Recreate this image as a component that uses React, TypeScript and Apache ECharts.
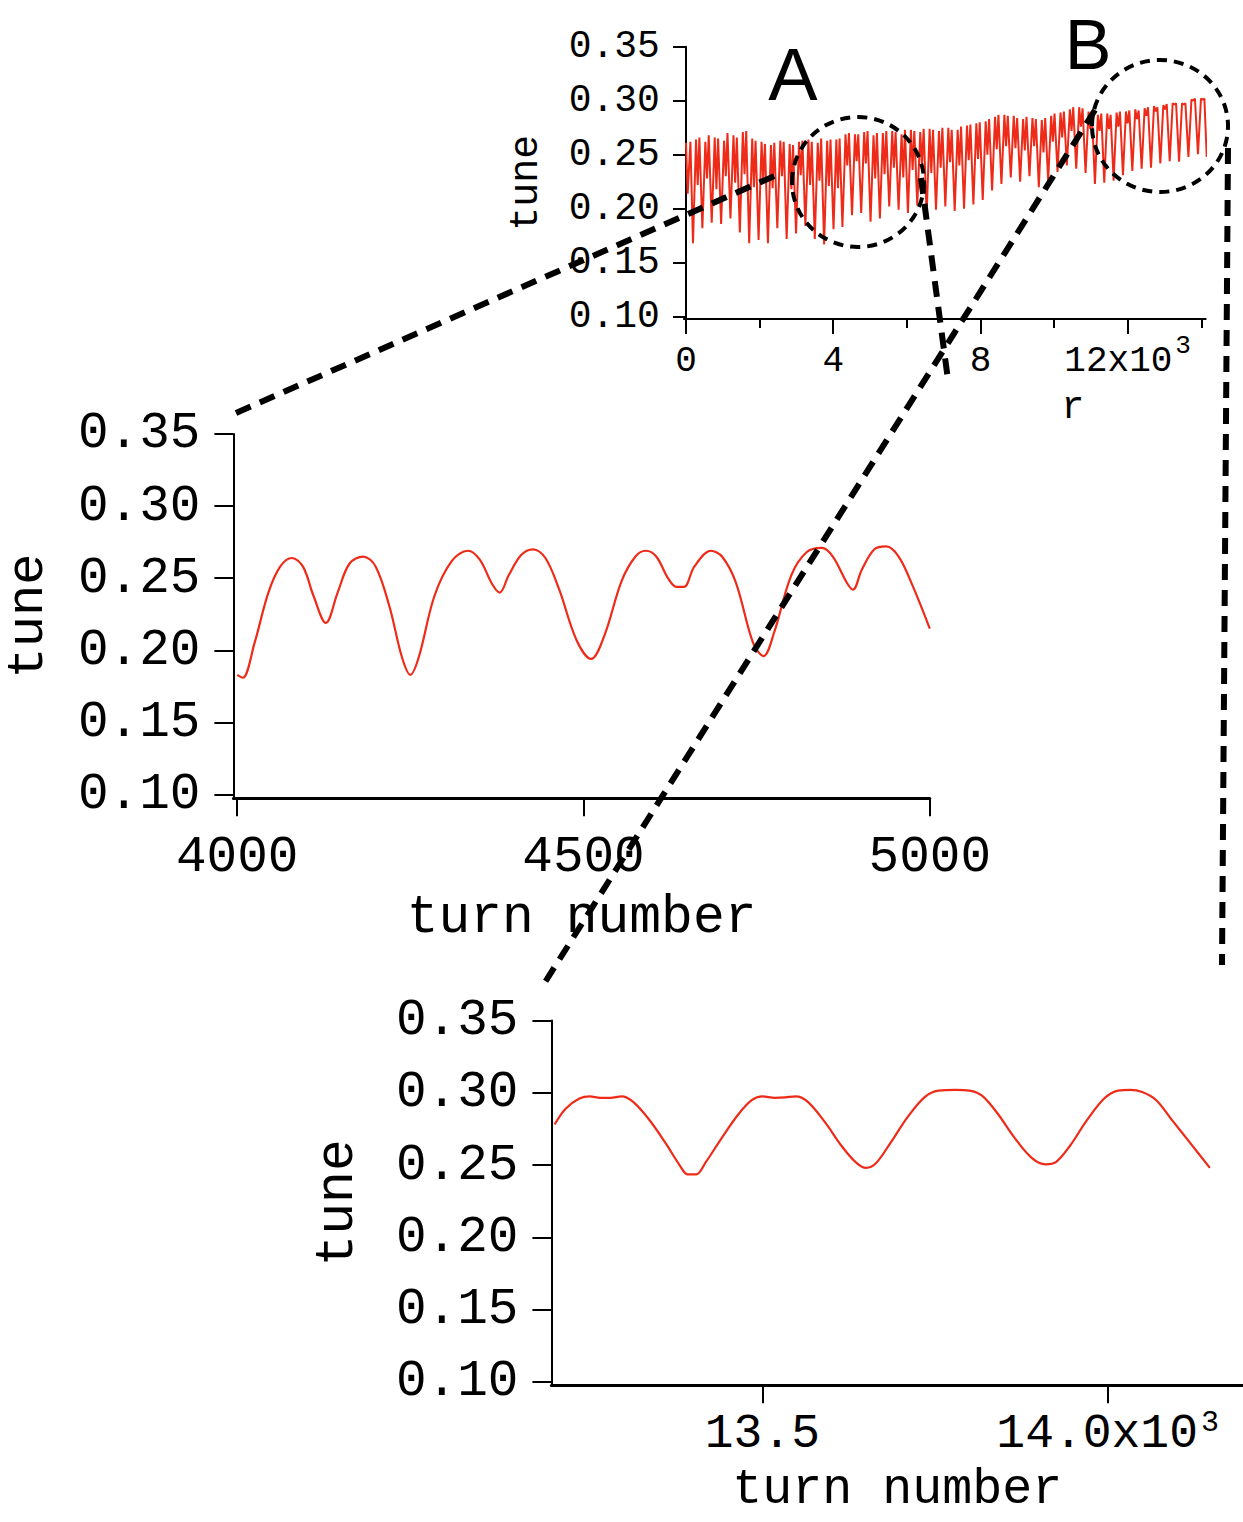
import { useEffect, useRef } from 'react';
import * as echarts from 'echarts';

const MONO = '"Liberation Mono", "Courier New", monospace';
const SANS = '"Liberation Sans", Arial, Helvetica, sans-serif';
const RED = '#ee2b19';
const INK = '#000000';

// ---- full run (top panel): extrema of each oscillation cycle ----
const overviewLeadTurn = [0, 46, 120];
const overviewLeadTune = [0.261, 0.214, 0.262];

const cycleTurn = [
  190, 445, 699, 954, 1208, 1463, 1717, 1972, 2226, 2481, 2735, 2990, 3244, 3499, 3753,
  4008, 4250, 4511, 4760, 5014, 5268, 5522, 5776, 6030, 6284, 6538, 6792, 7046, 7300,
  7554, 7808, 8062, 8316, 8570, 8824, 9078, 9332, 9586, 9840, 10094, 10348, 10602,
  10856, 11110, 11364, 11618, 11872, 12126, 12380, 12634, 12888, 13142, 13396, 13650, 13910,
];
const cycleLow = [
  0.168, 0.182, 0.187, 0.186, 0.191, 0.178, 0.168, 0.171, 0.168, 0.182, 0.172, 0.177, 0.184, 0.172, 0.167,
  0.181, 0.183, 0.194, 0.196, 0.188, 0.191, 0.202, 0.199, 0.196, 0.203, 0.194, 0.199, 0.202, 0.198,
  0.2, 0.204, 0.208, 0.217, 0.223, 0.229, 0.225, 0.23, 0.22, 0.226, 0.234, 0.24, 0.237,
  0.233, 0.223, 0.224, 0.226, 0.231, 0.235, 0.237, 0.238, 0.242, 0.244, 0.2435, 0.248, 0.2505,
];
const cyclePeakA = [
  0.264, 0.262, 0.266, 0.263, 0.268, 0.271, 0.265, 0.262, 0.259, 0.263, 0.26, 0.262, 0.264, 0.261, 0.263,
  0.264, 0.269, 0.269, 0.271, 0.268, 0.27, 0.272, 0.269, 0.273, 0.271, 0.274, 0.272, 0.275, 0.273,
  0.277, 0.279, 0.281, 0.285, 0.287, 0.286, 0.283, 0.284, 0.282, 0.286, 0.289, 0.292, 0.294,
  0.29, 0.287, 0.288, 0.289, 0.29, 0.292, 0.293, 0.295, 0.296, 0.2975, 0.2975, 0.301, 0.302,
];
const cycleDip = [
  0.222, 0.228, 0.218, 0.23, 0.224, 0.232, 0.22, 0.226, 0.219, 0.23, 0.218, 0.231, 0.222, 0.226, 0.221,
  0.219, 0.24, 0.244, 0.242, 0.228, 0.232, 0.238, 0.229, 0.236, 0.24, 0.233, 0.238, 0.243, 0.24,
  0.245, 0.246, 0.25, 0.255, 0.258, 0.256, 0.254, 0.258, 0.252, 0.262, 0.266, 0.272, 0.276,
  0.274, 0.272, 0.274, 0.276, 0.279, 0.283, 0.286, 0.29, 0.292, 0.2965, 0.2965, 0.3, 0.301,
];
const cyclePeakB = [
  0.266, 0.268, 0.265, 0.27, 0.266, 0.272, 0.263, 0.26, 0.261, 0.262, 0.259, 0.263, 0.262, 0.265, 0.264,
  0.265, 0.27, 0.269, 0.272, 0.27, 0.272, 0.271, 0.273, 0.272, 0.274, 0.273, 0.275, 0.273, 0.276,
  0.278, 0.28, 0.283, 0.287, 0.286, 0.284, 0.285, 0.283, 0.284, 0.288, 0.29, 0.294, 0.293,
  0.289, 0.288, 0.287, 0.29, 0.291, 0.291, 0.294, 0.294, 0.297, 0.2975, 0.2975, 0.302, 0.302,
];
const overviewTailTurn = 14148;
const overviewTailTune = 0.248;

// ---- window A: turns 4000-5000 ----
const windowATurn = [
  4000, 4008, 4025, 4045, 4062, 4079, 4095, 4110, 4128, 4145, 4162, 4182, 4200, 4220, 4238, 4250,
  4262, 4285, 4310, 4333, 4350, 4368, 4379, 4392, 4410, 4427, 4445, 4465, 4490, 4511, 4530, 4555,
  4575, 4590, 4605, 4622, 4634, 4645, 4660, 4684, 4700, 4720, 4745, 4760, 4775, 4800, 4822, 4844,
  4860, 4880, 4889, 4902, 4920, 4937, 4955, 4975, 5000,
];
const windowATune = [
  0.183, 0.181, 0.205, 0.24, 0.258, 0.264, 0.258, 0.238, 0.219, 0.24, 0.26, 0.265, 0.258, 0.23, 0.195, 0.183,
  0.195, 0.238, 0.262, 0.269, 0.263, 0.246, 0.24, 0.252, 0.266, 0.27, 0.264, 0.242, 0.207, 0.194, 0.21, 0.248,
  0.265, 0.269, 0.265, 0.25, 0.244, 0.244, 0.258, 0.269, 0.265, 0.247, 0.205, 0.196, 0.212, 0.252, 0.268, 0.271,
  0.265, 0.247, 0.242, 0.256, 0.27, 0.272, 0.265, 0.245, 0.215,
];

// ---- window B: turns 13.2k-14.15k ----
const windowBTurn = [
  13199, 13215, 13235, 13250, 13265, 13280, 13296, 13312, 13335, 13360, 13380, 13392, 13404, 13418,
  13440, 13465, 13485, 13500, 13518, 13533, 13548, 13565, 13590, 13615, 13635, 13650, 13664, 13685,
  13710, 13735, 13755, 13780, 13800, 13818, 13840, 13865, 13890, 13910, 13925, 13945, 13970, 13995,
  14015, 14033, 14050, 14070, 14095, 14120, 14148,
];
const windowBTune = [
  0.278, 0.289, 0.296, 0.2975, 0.2965, 0.2965, 0.2975, 0.294, 0.282, 0.265, 0.25, 0.2435, 0.2435, 0.252,
  0.268, 0.285, 0.295, 0.2975, 0.2965, 0.2968, 0.2975, 0.294, 0.28, 0.263, 0.252, 0.248, 0.251, 0.265,
  0.283, 0.297, 0.3015, 0.302, 0.3015, 0.298, 0.286, 0.269, 0.255, 0.2505, 0.252, 0.263, 0.281, 0.296,
  0.3015, 0.302, 0.3005, 0.295, 0.28, 0.265, 0.248,
];

const tuneTicks = [0.1, 0.15, 0.2, 0.25, 0.3, 0.35];
const overviewMajor = [0, 4000, 8000, 12000];
const overviewMinor = [2000, 6000, 10000, 14000];
const windowATicks = [4000, 4500, 5000];
const windowBTicks = [13500, 14000];

function overviewPoints(): [number, number][] {
  const pts: [number, number][] = overviewLeadTurn.map((t, i) => [t, overviewLeadTune[i]]);
  for (let i = 0; i < cycleTurn.length; i++) {
    const t = cycleTurn[i];
    const span = (i + 1 < cycleTurn.length ? cycleTurn[i + 1] : t + 256) - t;
    pts.push([t, cycleLow[i]]);
    pts.push([t + Math.round(span * 0.32), cyclePeakA[i]]);
    pts.push([t + Math.round(span * 0.5), cycleDip[i]]);
    pts.push([t + Math.round(span * 0.68), cyclePeakB[i]]);
  }
  pts.push([overviewTailTurn, overviewTailTune]);
  return pts;
}

const pair = (xs: number[], ys: number[]): [number, number][] => xs.map((x, i) => [x, ys[i]]);

function tuneAxis(
  gridIndex: number,
  min: number,
  fontSize: number,
  tickLen: number,
  margin: number,
  nameSize: number,
  nameGap: number,
  nameLine?: number,
) {
  return {
    type: 'value',
    gridIndex,
    min,
    max: 0.35,
    axisLine: { show: true, lineStyle: { color: INK, width: 2 } },
    axisTick: { show: true, customValues: tuneTicks, length: tickLen, lineStyle: { color: INK, width: 2 } },
    axisLabel: {
      show: true,
      customValues: tuneTicks,
      formatter: (v: number) => v.toFixed(2),
      fontFamily: MONO,
      fontSize,
      color: INK,
      margin,
    },
    splitLine: { show: false },
    name: 'tune',
    nameLocation: 'middle',
    nameRotate: 90,
    nameGap,
    nameMoveOverlap: false,
    nameTextStyle: { fontFamily: MONO, fontSize: nameSize, color: INK, lineHeight: nameLine },
  };
}

// base text sits in a tall line, the exponent is pinned to the line top
function supRich(base: number, line: number, sup: number, supLine: number) {
  return {
    n: { fontFamily: MONO, fontSize: base, lineHeight: line, color: INK },
    s: { fontFamily: MONO, fontSize: sup, lineHeight: supLine, color: INK, padding: [0, 0, 0, 3], verticalAlign: 'top' },
  };
}

function dashLine(x1: number, y1: number, x2: number, y2: number) {
  return {
    type: 'line',
    z: 100,
    shape: { x1, y1, x2, y2 },
    style: { stroke: INK, lineWidth: 6, lineDash: [16, 10], fill: 'none' },
  };
}

function dashRing(cx: number, cy: number, rx: number, ry: number) {
  return {
    type: 'ellipse',
    z: 100,
    shape: { cx, cy, rx, ry },
    style: { stroke: INK, lineWidth: 4, lineDash: [10, 7], fill: 'none' },
  };
}

function label(text: string, x: number, y: number, fontSize: number, fontFamily: string) {
  return {
    type: 'text',
    z: 100,
    x,
    y,
    style: {
      text,
      fontSize,
      fontFamily,
      fill: INK,
      align: 'center',
      verticalAlign: 'middle',
      textAlign: 'center',
      textVerticalAlign: 'middle',
    },
  };
}

export default function App() {
  const ref = useRef<HTMLDivElement>(null);

  useEffect(() => {
    if (!ref.current) return;
    const chart = echarts.init(ref.current, undefined, { renderer: 'svg' });

    const option = {
      animation: false,
      backgroundColor: '#ffffff',
      grid: [
        { left: 683.9, top: 46.7, width: 521.8, height: 272.3, containLabel: false, outerBoundsMode: 'none' },
        { left: 233.4, top: 433.9, width: 696.4, height: 364.3, containLabel: false, outerBoundsMode: 'none' },
        { left: 551.4, top: 1020.5, width: 691.6, height: 364.8, containLabel: false, outerBoundsMode: 'none' },
      ],
      xAxis: [
        {
          type: 'value',
          gridIndex: 0,
          position: 'bottom',
          min: -57,
          max: 14120,
          axisLine: { show: true, lineStyle: { color: INK, width: 2 } },
          axisTick: { show: true, customValues: overviewMajor, length: 15, lineStyle: { color: INK, width: 2 } },
          axisLabel: {
            show: true,
            customValues: overviewMajor,
            margin: 14,
            formatter: (v: number) => (v === 12000 ? '{n|12x10}{s|3}' : '{n|' + v / 1000 + '}'),
            rich: supRich(36, 57, 26, 26),
          },
          splitLine: { show: false },
        },
        {
          type: 'value',
          gridIndex: 0,
          position: 'bottom',
          min: -57,
          max: 14120,
          axisLine: { show: false },
          axisTick: { show: true, customValues: overviewMinor, length: 9, lineStyle: { color: INK, width: 2 } },
          axisLabel: { show: false },
          splitLine: { show: false },
        },
        {
          type: 'value',
          gridIndex: 1,
          position: 'bottom',
          min: 3994.5,
          max: 5000,
          axisLine: { show: true, lineStyle: { color: INK, width: 3 } },
          axisTick: { show: true, customValues: windowATicks, length: 18, lineStyle: { color: INK, width: 2 } },
          axisLabel: {
            show: true,
            customValues: windowATicks,
            margin: 34,
            fontFamily: MONO,
            fontSize: 51,
            color: INK,
            formatter: (v: number) => String(v),
          },
          splitLine: { show: false },
          name: 'turn number',
          nameLocation: 'middle',
          nameGap: 103,
          nameMoveOverlap: false,
          nameTextStyle: { fontFamily: MONO, fontSize: 53, lineHeight: 34, color: INK },
        },
        {
          type: 'value',
          gridIndex: 2,
          position: 'bottom',
          min: 13194.4,
          max: 14196,
          axisLine: { show: true, lineStyle: { color: INK, width: 3 } },
          axisTick: { show: true, customValues: windowBTicks, length: 18, lineStyle: { color: INK, width: 2 } },
          axisLabel: {
            show: true,
            customValues: windowBTicks,
            margin: 23,
            formatter: (v: number) => (v === 14000 ? '{n|14.0x10}{s|3}' : '{n|' + (v / 1000).toFixed(1) + '}'),
            rich: supRich(48, 52, 30, 20),
          },
          splitLine: { show: false },
          name: 'turn number',
          nameLocation: 'middle',
          nameGap: 87,
          nameMoveOverlap: false,
          nameTextStyle: { fontFamily: MONO, fontSize: 50, lineHeight: 34, color: INK },
        },
      ],
      yAxis: [
        tuneAxis(0, 0.0979, 38, 13, 24, 40, 137),
        tuneAxis(1, 0.0975, 51, 19, 33, 52, 185, 40),
        tuneAxis(2, 0.0976, 51, 19, 33, 53, 187),
      ],
      series: [
        {
          type: 'line',
          xAxisIndex: 0,
          yAxisIndex: 0,
          data: overviewPoints(),
          showSymbol: false,
          lineStyle: { color: RED, width: 2 },
          z: 2,
        },
        {
          type: 'line',
          xAxisIndex: 2,
          yAxisIndex: 1,
          data: pair(windowATurn, windowATune),
          showSymbol: false,
          smooth: 0.35,
          lineStyle: { color: RED, width: 2.2 },
          z: 2,
        },
        {
          type: 'line',
          xAxisIndex: 3,
          yAxisIndex: 2,
          data: pair(windowBTurn, windowBTune),
          showSymbol: false,
          smooth: 0.35,
          lineStyle: { color: RED, width: 2.2 },
          z: 2,
        },
      ],
      graphic: [
        dashRing(858, 182, 66, 65),
        dashRing(1160, 126, 68, 66),
        dashLine(236, 413, 779, 174),
        dashLine(921, 178, 948, 380),
        dashLine(1095, 110, 542, 987),
        dashLine(1228, 148, 1222, 965),
        label('A', 793, 74, 74, SANS),
        label('B', 1088, 45, 70, SANS),
        label('r', 1073, 407, 38, MONO),
      ],
    };

    chart.setOption(option as any);
    return () => chart.dispose();
  }, []);

  return (
    <div
      ref={ref}
      style={{ position: 'absolute', left: 0, top: 0, width: 1243, height: 1522, background: '#fff' }}
    />
  );
}
